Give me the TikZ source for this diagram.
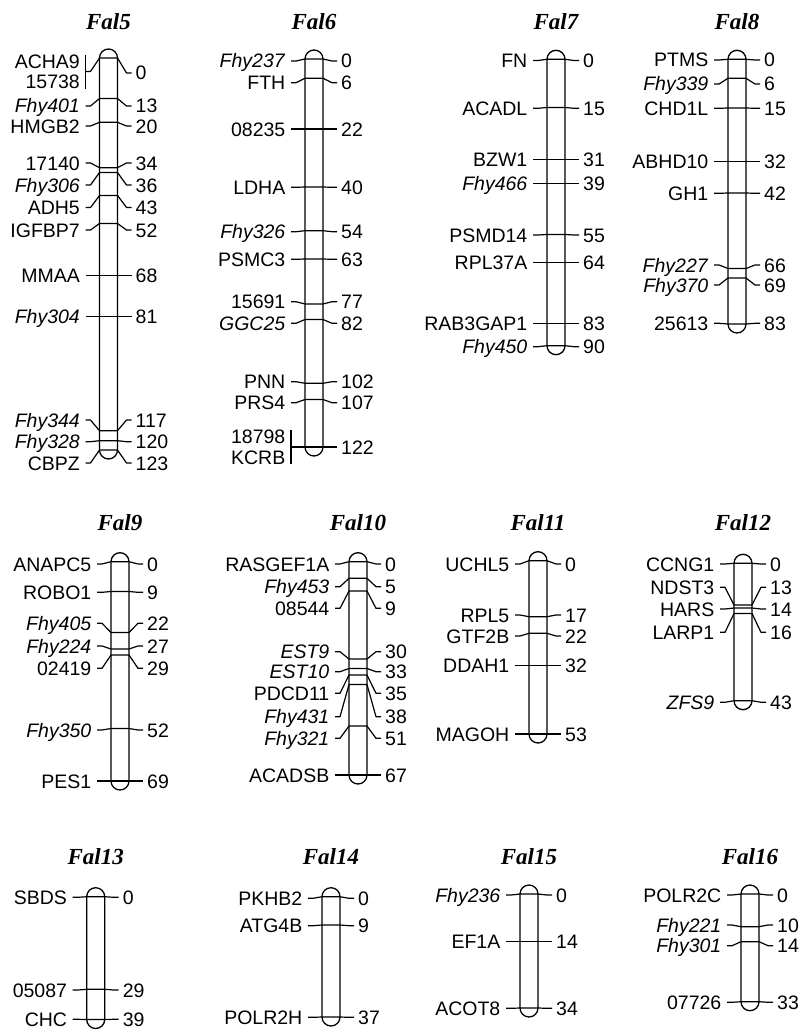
\documentclass[tikz,border=0pt]{standalone}
\usepackage{fontspec}
\setmainfont{Liberation Sans}
\newfontfamily\ttlfont{Liberation Serif}
\newcounter{mkc}
\tikzset{
 lab/.style={inner sep=0pt, font=\fontsize{19.5}{22}\selectfont, text height=14pt, text depth=0pt},
 ttl/.style={inner sep=0pt, font=\ttlfont\bfseries\itshape\fontsize{23}{25}\selectfont, text height=15pt, text depth=0pt},
 conn/.style={line width=1.2pt, line join=round},
 chrom/.style={line width=1.3pt, rounded corners=9pt},
}
% chromosome: name, xc, ytop, ybot, title, ytitle
\newcommand\Chrom[6]{%
 \draw[chrom] (#2-9,#3-9) rectangle (#2+9,#4+9);
 \node[ttl] (#1) at (#2,#6) {#5};
}
% marker: xc, ybar, ylabel, label, number
\newcommand\Mk[5]{%
 \stepcounter{mkc}%
 \node[lab, anchor=east] (L\arabic{mkc}) at (#1-28.5,#3) {#4};
 \node[lab, anchor=west] (R\arabic{mkc}) at (#1+27,#3) {#5};
 \draw[conn] ([xshift=5.5pt]L\arabic{mkc}.east) -- (#1-18,#3) -- (#1-9,#2) -- (#1+9,#2) -- (#1+18,#3) -- ([xshift=-4pt]R\arabic{mkc}.west);
}
% bracketed pair: xc, ybar, yl1, yl2, lab1, lab2, number, ystart, ynum
\newcommand\Br[9]{%
 \stepcounter{mkc}%
 \node[lab, anchor=east] (L\arabic{mkc}a) at (#1-28.5,#3) {#5};
 \node[lab, anchor=east] (L\arabic{mkc}b) at (#1-28.5,#4) {#6};
 \node[lab, anchor=west] (R\arabic{mkc}) at (#1+27,#9) {#7};
 \coordinate (B\arabic{mkc}t) at (#1-23,#3-7);
 \coordinate (B\arabic{mkc}b) at (#1-23,#4+7);
 \draw[conn] (B\arabic{mkc}t) -- (B\arabic{mkc}b);
 \draw[conn] (#1-23,#8) -- (#1-18,#8) -- (#1-9,#2) -- (#1+9,#2) -- (#1+18,#9) -- ([xshift=-4pt]R\arabic{mkc}.west);
}
\begin{document}
\begin{tikzpicture}[x=1pt,y=-1pt]
\useasboundingbox (0,0) rectangle (807,1030);
% ---------- Fal5
\Chrom{c5}{108.5}{58}{450}{Fal5}{21.7}
\Br{108.5}{58}{61.7}{81.7}{ACHA9}{15738}{0}{71.5}{73}
\Mk{108.5}{98.5}{106}{\textit{Fhy401}}{13}
\Mk{108.5}{122.3}{126}{HMGB2}{20}
\Mk{108.5}{167.7}{163}{17140}{34}
\Mk{108.5}{172.5}{185}{\textit{Fhy306}}{36}
\Mk{108.5}{195.5}{207.5}{ADH5}{43}
\Mk{108.5}{223.5}{230}{IGFBP7}{52}
\Mk{108.5}{275.5}{275.5}{MMAA}{68}
\Mk{108.5}{316.7}{316.7}{\textit{Fhy304}}{81}
\Mk{108.5}{430.7}{420}{\textit{Fhy344}}{117}
\Mk{108.5}{440.7}{441.7}{\textit{Fhy328}}{120}
\Mk{108.5}{450}{463}{CBPZ}{123}
% ---------- Fal6
\Chrom{c6}{314}{59}{447}{Fal6}{21.7}
\Mk{314}{59}{61}{\textit{Fhy237}}{0}
\Mk{314}{78.3}{82.7}{FTH}{6}
\Mk{314}{129}{129}{08235}{22}
\Mk{314}{187}{187.3}{LDHA}{40}
\Mk{314}{230.7}{231.7}{\textit{Fhy326}}{54}
\Mk{314}{259}{259.3}{PSMC3}{63}
\Mk{314}{304}{301.7}{15691}{77}
\Mk{314}{319.5}{323.3}{\textit{GGC25}}{82}
\Mk{314}{383.3}{381.7}{PNN}{102}
\Mk{314}{399.5}{402.7}{PRS4}{107}
\Br{314}{447}{436.7}{457}{18798}{KCRB}{122}{447}{447}
% ---------- Fal7
\Chrom{c7}{556}{59.3}{345.7}{Fal7}{21.7}
\Mk{556}{59.3}{60.5}{FN}{0}
\Mk{556}{107.5}{108.3}{ACADL}{15}
\Mk{556}{159.5}{159.5}{BZW1}{31}
\Mk{556}{183.3}{183.3}{\textit{Fhy466}}{39}
\Mk{556}{234.5}{235}{PSMD14}{55}
\Mk{556}{262.5}{262.5}{RPL37A}{64}
\Mk{556}{323.3}{323.3}{RAB3GAP1}{83}
\Mk{556}{345.7}{346.7}{\textit{Fhy450}}{90}
% ---------- Fal8
\Chrom{c8}{737}{59.3}{324}{Fal8}{21.7}
\Mk{737}{59.3}{60}{PTMS}{0}
\Mk{737}{78.3}{84}{\textit{Fhy339}}{6}
\Mk{737}{108}{108.3}{CHD1L}{15}
\Mk{737}{161.7}{161.7}{ABHD10}{32}
\Mk{737}{193}{193.3}{GH1}{42}
\Mk{737}{268.5}{265}{\textit{Fhy227}}{66}
\Mk{737}{278}{285}{\textit{Fhy370}}{69}
\Mk{737}{324}{323.3}{25613}{83}
% ---------- Fal9
\Chrom{c9}{120}{561.7}{781}{Fal9}{523.3}
\Mk{120}{561.7}{564}{ANAPC5}{0}
\Mk{120}{591.5}{592.3}{ROBO1}{9}
\Mk{120}{632.5}{623.3}{\textit{Fhy405}}{22}
\Mk{120}{649}{646}{\textit{Fhy224}}{27}
\Mk{120}{655}{668.3}{02419}{29}
\Mk{120}{728.5}{730}{\textit{Fhy350}}{52}
\Mk{120}{781}{781}{PES1}{69}
% ---------- Fal10
\Chrom{c10}{358}{561.7}{775}{Fal10}{523.3}
\Mk{358}{561.7}{564}{RASGEF1A}{0}
\Mk{358}{578.3}{586.7}{\textit{Fhy453}}{5}
\Mk{358}{591}{608.3}{08544}{9}
\Mk{358}{659}{651.7}{\textit{EST9}}{30}
\Mk{358}{668.5}{671.7}{\textit{EST10}}{33}
\Mk{358}{675}{693.3}{PDCD11}{35}
\Mk{358}{684.5}{716.7}{\textit{Fhy431}}{38}
\Mk{358}{726}{738.3}{\textit{Fhy321}}{51}
\Mk{358}{775}{775}{ACADSB}{67}
% ---------- Fal11
\Chrom{c11}{538}{560.7}{734}{Fal11}{523.3}
\Mk{538}{560.7}{564}{UCHL5}{0}
\Mk{538}{616.7}{615}{RPL5}{17}
\Mk{538}{633.3}{636}{GTF2B}{22}
\Mk{538}{665.7}{665.7}{DDAH1}{32}
\Mk{538}{734}{734}{MAGOH}{53}
% ---------- Fal12
\Chrom{c12}{743}{563.3}{700.7}{Fal12}{523.3}
\Mk{743}{563.3}{564}{CCNG1}{0}
\Mk{743}{605}{587.3}{NDST3}{13}
\Mk{743}{608}{609}{HARS}{14}
\Mk{743}{613.5}{632.3}{LARP1}{16}
\Mk{743}{700.7}{702.3}{\textit{ZFS9}}{43}
% ---------- Fal13
\Chrom{c13}{95.7}{896.7}{1019.5}{Fal13}{857.3}
\Mk{95.7}{896.7}{897.3}{SBDS}{0}
\Mk{95.7}{989.3}{990}{05087}{29}
\Mk{95.7}{1019.5}{1019.3}{CHC}{39}
% ---------- Fal14
\Chrom{c14}{331}{896.7}{1017}{Fal14}{857.3}
\Mk{331}{896.7}{898.3}{PKHB2}{0}
\Mk{331}{925}{925.7}{ATG4B}{9}
\Mk{331}{1017}{1017.3}{POLR2H}{37}
% ---------- Fal15
\Chrom{c15}{529}{894}{1008}{Fal15}{857.3}
\Mk{529}{894}{895}{\textit{Fhy236}}{0}
\Mk{529}{941.7}{941.7}{EF1A}{14}
\Mk{529}{1008}{1008.3}{ACOT8}{34}
% ---------- Fal16
\Chrom{c16}{750}{894}{1001.7}{Fal16}{857.3}
\Mk{750}{894}{895}{POLR2C}{0}
\Mk{750}{926.7}{925}{\textit{Fhy221}}{10}
\Mk{750}{941.7}{945.7}{\textit{Fhy301}}{14}
\Mk{750}{1001.7}{1002.3}{07726}{33}
\end{tikzpicture}
\end{document}
